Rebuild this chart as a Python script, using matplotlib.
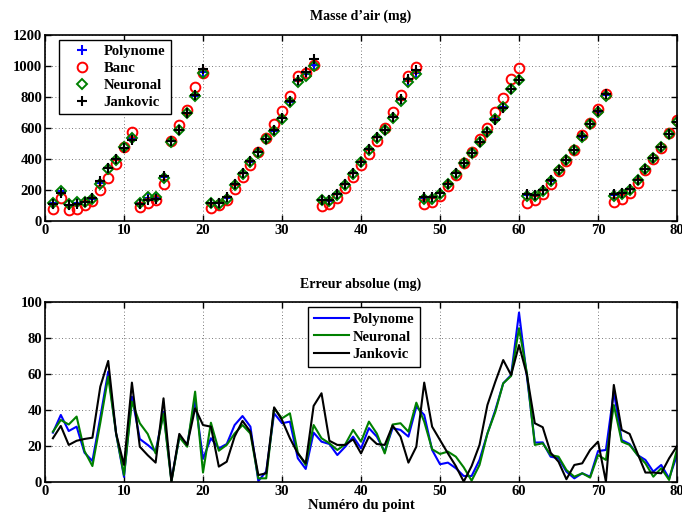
import numpy as np
import matplotlib
matplotlib.use('Agg')
import matplotlib.pyplot as plt

plt.rcParams['font.family'] = ['Liberation Serif', 'DejaVu Serif']
plt.rcParams['font.weight'] = 'bold'

# numero du point
points = np.arange(1, 81)

# masse d'air (mg)
banc = [77, 153, 71, 82, 103, 133, 204, 280, 368, 477, 576, 92, 118, 135, 243, 518, 619, 720, 866, 959,
        88, 103, 140, 206, 286, 361, 445, 540, 626, 710, 806, 937, 957, 1006, 99, 114, 150, 217, 286, 361,
        436, 518, 604, 705, 813, 935, 995, 110, 125, 163, 228, 301, 376, 447, 529, 604, 705, 796, 920, 991,
        118, 140, 174, 243, 322, 389, 462, 555, 634, 722, 819, 125, 146, 185, 247, 329, 404, 475, 570, 651]
neuronal = [118, 198, 110, 125, 127, 146, 239, 340, 398, 479, 540, 120, 157, 157, 282, 514, 587, 699, 806, 957,
            118, 114, 146, 232, 307, 383, 443, 529, 580, 662, 770, 899, 937, 1000, 135, 129, 172, 237, 307, 383,
            462, 540, 587, 667, 776, 899, 948, 146, 146, 178, 239, 307, 376, 441, 512, 576, 662, 737, 856, 909,
            163, 163, 196, 260, 333, 394, 462, 544, 626, 705, 806, 163, 174, 204, 264, 335, 406, 479, 561, 641]
polynome = [115, 194, 108, 121, 126, 147, 244, 343, 399, 476, 536, 118, 152, 155, 285, 515, 589, 699, 809, 961,
            119, 116, 150, 235, 309, 385, 445, 531, 583, 665, 772, 902, 950, 1010, 137, 133, 174, 240, 309, 385,
            465, 542, 589, 670, 780, 904, 955, 150, 150, 180, 241, 309, 376, 441, 512, 576, 660, 735, 856, 912,
            167, 166, 199, 262, 333, 396, 462, 546, 628, 707, 812, 168, 178, 207, 266, 337, 408, 479, 561, 641]
jankovic = [110, 185, 103, 110, 125, 150, 260, 346, 400, 473, 527, 110, 135, 146, 292, 516, 591, 699, 813, 985,
            120, 118, 157, 239, 312, 387, 447, 533, 587, 669, 774, 909, 965, 1049, 140, 140, 178, 243, 312, 383,
            469, 544, 591, 673, 791, 920, 974, 157, 157, 183, 243, 312, 376, 441, 512, 576, 656, 733, 856, 914,
            174, 172, 204, 264, 333, 398, 462, 548, 630, 710, 819, 174, 183, 211, 269, 340, 409, 479, 561, 641]

# erreur absolue (mg)
err_polynome = [27.5, 37.3, 28.4, 30.8, 16.4, 11.8, 36, 61.3, 27, 3, 47.4, 24, 20.7, 17, 39, 1.3, 25, 21, 45.6, 13,
                24.4, 18.8, 21.2, 31.7, 36.7, 30.8, 0.7, 6, 38.2, 32.7, 33.6, 13.3, 7.4, 27.5, 22.5, 21.2, 15.1, 19.7, 25.3, 18.8,
                30, 25.3, 17, 30, 29, 25.3, 41.9, 37.3, 17.9, 10, 10.9, 7.8, 3.5, 3.5, 12.4, 27, 40, 54.8, 59.4, 94,
                58.5, 22, 22.1, 14.2, 13.3, 5.9, 2.2, 5, 3.1, 17.3, 17.9, 50.2, 23.4, 21.2, 15.1, 12.4, 5.9, 9.6, 2.2, 15.1]
err_neuronal = [28, 34.5, 32, 36.4, 17.3, 9, 33, 58.5, 27, 4, 44.7, 32.7, 26.8, 16, 38, 0.4, 25, 19.7, 50.2, 5.4,
                33, 17.5, 20.7, 27, 31.7, 27, 2.2, 2.2, 41, 35.4, 38.2, 16.4, 9.6, 31.7, 24.4, 21.6, 17.9, 21, 29, 22.5,
                33.6, 27, 16, 32, 32.7, 28, 44.1, 33.6, 18.3, 15.7, 17, 14.2, 8.3, 0.9, 9.6, 27, 39, 54.8, 58.9, 85.3,
                60.4, 20.7, 21.6, 15.1, 14.2, 6.8, 3.1, 5, 2.6, 15.1, 12.4, 42.8, 22.5, 20.7, 15.1, 10.5, 3.1, 7.8, 1.3, 18.3]
err_jankovic = [24.4, 31.2, 20.7, 23, 24, 24.7, 53, 67.2, 27, 9.6, 55.2, 19.7, 15, 10.9, 46.5, 0.4, 26.8, 20.7, 41, 31.7,
                30.8, 8.7, 11.4, 25.3, 34, 28, 4, 5, 41.5, 34.5, 24.4, 16, 10.5, 42.3, 49.3, 23, 20.7, 20.7, 23.8, 16,
                25.3, 21.2, 20.7, 31.4, 25.3, 10.9, 19.7, 55.2, 30.8, 23.4, 16, 9, 0.4, 9, 20.7, 42.8, 55.7, 67.7, 59.4, 76,
                59.4, 32.7, 30.5, 16.4, 11.4, 1.7, 9.6, 10.5, 17.9, 22.5, 0.4, 53.9, 29, 26.8, 16, 5.4, 5.4, 5, 13.3, 20.1]


def style_axes(ax):
    ax.tick_params(direction='in', top=True, right=True, labelsize=10.5, length=4, width=1, pad=2)
    ax.grid(True, linestyle=(0, (1, 3)), color='k', linewidth=0.6, alpha=0.7)
    for sp in ax.spines.values():
        sp.set_linewidth(1.2)
    for lab in ax.get_xticklabels() + ax.get_yticklabels():
        lab.set_fontweight('bold')


fig = plt.figure(figsize=(6.82, 5.19), dpi=100)

# --- masse d'air
ax1 = fig.add_axes([0.066, 0.5736, 0.9267, 0.3584])
ax1.plot(points, polynome, '+', color='b', markersize=7, markeredgewidth=1.5, label='Polynome')
ax1.plot(points, banc, 'o', color='r', markerfacecolor='none', markersize=7, markeredgewidth=1.4, label='Banc')
ax1.plot(points, neuronal, 'D', color='g', markerfacecolor='none', markersize=5.5, markeredgewidth=1.4, label='Neuronal')
ax1.plot(points, jankovic, '+', color='k', markersize=7, markeredgewidth=1.5, label='Jankovic')
ax1.set_xlim(0, 80)
ax1.set_ylim(0, 1200)
ax1.set_xticks(np.arange(0, 81, 10))
ax1.set_yticks(np.arange(0, 1201, 200))
ax1.set_title("Masse d\u2019air (mg)", fontsize=10, fontweight='bold', pad=11)
style_axes(ax1)
leg1 = ax1.legend(loc='upper left', bbox_to_anchor=(0.0226, 0.975), borderaxespad=0, fancybox=False,
                  edgecolor='k', framealpha=1, prop={'size': 10.5, 'weight': 'bold'},
                  handlelength=2.4, handletextpad=0.3, borderpad=0.35, labelspacing=0.25)
leg1.get_frame().set_linewidth(1.0)

# --- erreur absolue
ax2 = fig.add_axes([0.066, 0.0707, 0.9267, 0.348])
ax2.plot(points, err_polynome, color='b', linewidth=1.5, label='Polynome')
ax2.plot(points, err_neuronal, color='g', linewidth=1.5, label='Neuronal')
ax2.plot(points, err_jankovic, color='k', linewidth=1.5, label='Jankovic')
ax2.set_xlim(0, 80)
ax2.set_ylim(0, 100)
ax2.set_xticks(np.arange(0, 81, 10))
ax2.set_yticks(np.arange(0, 101, 20))
ax2.set_title('Erreur absolue (mg)', fontsize=10, fontweight='bold', pad=10)
ax2.set_xlabel('Num\u00e9ro du point', fontsize=10.5, fontweight='bold', labelpad=1)
style_axes(ax2)
leg2 = ax2.legend(loc='upper left', bbox_to_anchor=(0.416, 0.971), borderaxespad=0, fancybox=False,
                  edgecolor='k', framealpha=1, prop={'size': 10.5, 'weight': 'bold'},
                  handlelength=2.4, handletextpad=0.25, borderpad=0.4, labelspacing=0.3)
leg2.get_frame().set_linewidth(1.0)

fig.savefig('out.png', dpi=100)
